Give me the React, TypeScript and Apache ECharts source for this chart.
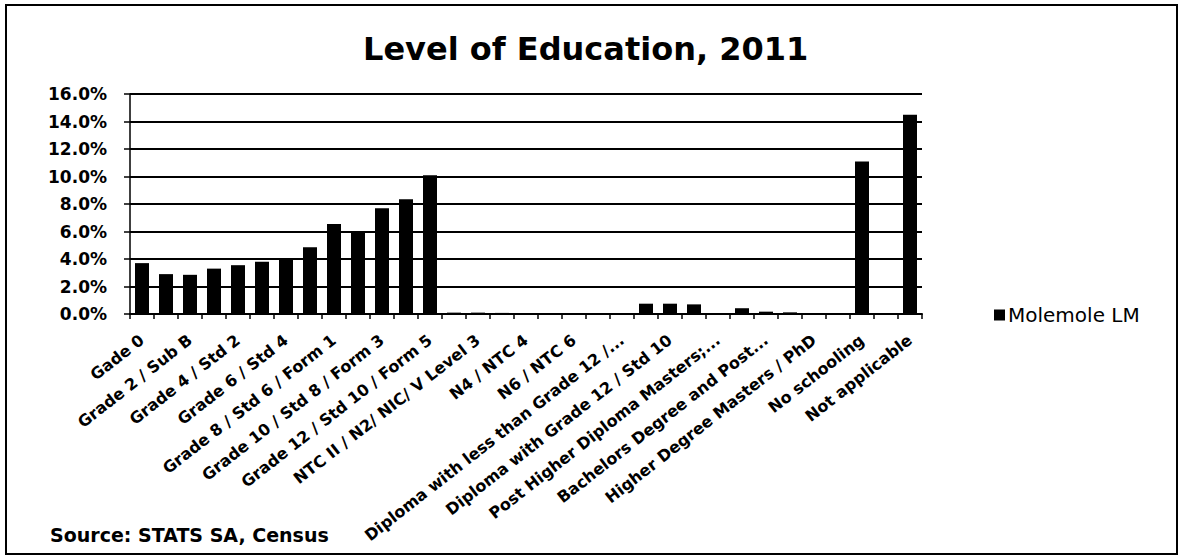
import React, { useEffect, useRef } from "react";
import * as echarts from "echarts";

const categories = [
  "Gade 0",
  "Grade 1 / Sub A",
  "Grade 2 / Sub B",
  "Grade 3 / Std 1/ABET 1",
  "Grade 4 / Std 2",
  "Grade 5 / Std 3/ABET 2",
  "Grade 6 / Std 4",
  "Grade 7 / Std 5/ ABET 3",
  "Grade 8 / Std 6 / Form 1",
  "Grade 9 / Std 7 / Form 2/ ABET 4",
  "Grade 10 / Std 8 / Form 3",
  "Grade 11 / Std 9 / Form 4",
  "Grade 12 / Std 10 / Form 5",
  "NTC I / N1/ NIC/ V Level 2",
  "NTC II / N2/ NIC/ V Level 3",
  "NTC III /N3/ NIC/ V Level 4",
  "N4 / NTC 4",
  "N5 /NTC 5",
  "N6 / NTC 6",
  "Certificate with less than Grade 12 /...",
  "Diploma with less than Grade 12 /...",
  "Certificate with Grade 12 / Std 10",
  "Diploma with Grade 12 / Std 10",
  "Higher Diploma",
  "Post Higher Diploma Masters;...",
  "Bachelors Degree",
  "Bachelors Degree and Post...",
  "Honours degree",
  "Higher Degree Masters / PhD",
  "Other",
  "No schooling",
  "Unspecified",
  "Not applicable",
];

const values = [
  3.7, 2.9, 2.85, 3.3, 3.55, 3.8, 4.05, 4.85, 6.55, 5.95, 7.7, 8.35, 10.1,
  0.1, 0.1, 0.08, 0.06, 0.05, 0.05, 0.05, 0.05,
  0.75, 0.75, 0.7, 0.05, 0.42, 0.17, 0.12, 0.05, 0.05,
  11.1, 0.02, 14.5,
];

const seriesName = "Molemole LM";
const titleText = "Level of Education, 2011";
const sourceText = "Source: STATS SA, Census";
const yTicks = { min: 0, max: 16, interval: 2 };

const FONT = "DejaVu Sans";

export default function App() {
  const ref = useRef<HTMLDivElement>(null);
  useEffect(() => {
    if (!ref.current) return;
    const chart = echarts.init(ref.current, null, { renderer: "svg" });
    chart.setOption({
      animation: false,
      backgroundColor: "#ffffff",
      title: {
        text: titleText,
        left: 358,
        top: 28,
        textStyle: {
          fontFamily: FONT,
          fontWeight: "bold",
          fontSize: 32,
          color: "#000",
        },
      },
      legend: {
        data: [seriesName],
        left: 989,
        top: 300,
        itemWidth: 11,
        itemHeight: 11,
        icon: "rect",
        itemGap: 4,
        textStyle: { fontFamily: FONT, fontSize: 20, color: "#000", padding: [0, 0, 0, -2] },
      },
      grid: { left: 130, right: 257, top: 94, bottom: 244, containLabel: false },
      xAxis: {
        type: "category",
        data: categories,
        boundaryGap: true,
        axisLine: { show: true, lineStyle: { color: "#000", width: 2 } },
        axisTick: { show: true, interval: 0, length: 5, lineStyle: { color: "#000", width: 1.5 } },
        axisLabel: {
          interval: 1,
          rotate: 38,
          margin: 24,
          fontFamily: FONT,
          fontWeight: "bold",
          fontSize: 16,
          color: "#000",
        },
      },
      yAxis: {
        type: "value",
        min: yTicks.min,
        max: yTicks.max,
        interval: yTicks.interval,
        axisLine: { show: true, lineStyle: { color: "#000", width: 1.5 } },
        axisTick: { show: true, length: 6, lineStyle: { color: "#000", width: 1.5 } },
        splitLine: { show: true, lineStyle: { color: "#000", width: 2 } },
        axisLabel: {
          margin: 23,
          fontFamily: FONT,
          fontWeight: "bold",
          fontSize: 17,
          color: "#000",
          formatter: (v: number) => v.toFixed(1) + "%",
        },
      },
      series: [
        {
          name: seriesName,
          type: "bar",
          data: values,
          barWidth: 14,
          itemStyle: { color: "#000" },
        },
      ],
      graphic: [
        {
          type: "rect",
          shape: { x: 6, y: 5, width: 1171, height: 549 },
          style: { fill: "none", stroke: "#000", lineWidth: 2 },
          silent: true,
        },
        {
          type: "text",
          x: 50,
          y: 535,
          style: {
            text: sourceText,
            fontFamily: FONT,
            fontWeight: "bold",
            fontSize: 19,
            fill: "#000",
            verticalAlign: "middle",
          },
        },
      ],
    });
    return () => chart.dispose();
  }, []);
  return (
    <div
      ref={ref}
      style={{ position: "fixed", left: 0, top: 0, width: 1179, height: 558, background: "#fff" }}
    />
  );
}
